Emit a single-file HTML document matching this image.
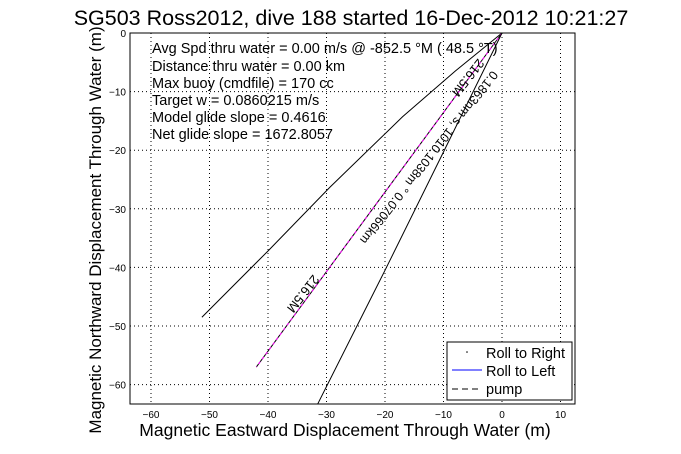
<!DOCTYPE html>
<html><head><meta charset="utf-8"><style>
body{margin:0;background:#fff}
svg{display:block;font-family:"Liberation Sans",sans-serif}
</style></head><body>
<svg id="chart" width="681" height="454" viewBox="0 0 681 454">
<rect width="681" height="454" fill="#fff"/>
<g id="grid"></g>
<g id="ticks" font-size="10"></g>
<g id="series"></g>
<rect x="130" y="33" width="445" height="371" fill="none" stroke="#000"/>
<text x="351" y="25" font-size="21.5" text-anchor="middle">SG503 Ross2012, dive 188 started 16-Dec-2012 10:21:27</text>
<text x="345" y="436" font-size="17.5" text-anchor="middle">Magnetic Eastward Displacement Through Water (m)</text>
<text transform="translate(101,230) rotate(-90)" font-size="17" text-anchor="middle">Magnetic Northward Displacement Through Water (m)</text>
<g font-size="14.5">
<text x="152" y="53">Avg Spd thru water =  0.00 m/s @ -852.5    °M ( 48.5 °T)</text>
<text x="152" y="71">Distance thru water =  0.00 km</text>
<text x="152" y="88">Max buoy (cmdfile) = 170 cc</text>
<text x="152" y="105">Target w = 0.0860215 m/s</text>
<text x="152" y="122">Model glide slope = 0.4616</text>
<text x="152" y="139">Net glide slope = 1672.8057</text>
</g>
<g font-size="13">
<text transform="translate(478,58) rotate(128)">216.5M</text>
<text transform="translate(492,70) rotate(128)" font-size="12.5">0.1863nm s, 1010.1038m ° 0.07066km</text>
<text transform="translate(313,274) rotate(128)">216.5M</text>
</g>
<g>
<rect x="447" y="342" width="125" height="58" fill="#fff" stroke="#000"/>
<circle cx="467" cy="352" r="0.8" fill="#000"/>
<text x="486" y="358" font-size="14.5">Roll to Right</text>
<line x1="452" y1="370" x2="482" y2="370" stroke="#00f"/>
<text x="486" y="376" font-size="14.5">Roll to Left</text>
<line x1="452" y1="389" x2="482" y2="389" stroke="#000" stroke-dasharray="6,4"/>
<text x="486" y="394" font-size="14.5">pump</text>
</g>
</svg>
<script>
const xTicks=[-60,-50,-40,-30,-20,-10,0,10];
const yTicks=[0,-10,-20,-30,-40,-50,-60];
const upperX=[0,-8,-17,-29.4,-40,-51.3];
const upperY=[0,-6.5,-14.3,-26.3,-37.2,-48.5];
const middleX=[0,-42];
const middleY=[0,-57];
const lowerX=[0,-10.1,-20,-31.5];
const lowerY=[0,-20.5,-40.5,-63.3];
const NS="http://www.w3.org/2000/svg";
const L=130,R=575,T=33,B=404;
const sx=v=>502+v*5.85;
const sy=v=>33-v*5.86;
const grid=document.getElementById('grid'),ticks=document.getElementById('ticks'),series=document.getElementById('series');
function mk(tag,at,parent){const e=document.createElementNS(NS,tag);for(const k in at)e.setAttribute(k,at[k]);parent.appendChild(e);return e;}
xTicks.forEach(v=>{
 const l=mk('line',{x1:sx(v),x2:sx(v),y1:T,y2:B,stroke:'#000','stroke-dasharray':'1,3'},grid);
 
 
 const t=mk('text',{x:sx(v),y:B+14,'text-anchor':'middle'},ticks);
 t.textContent=v<0?'\u2212'+(-v):String(v);
 
 
});
yTicks.forEach(v=>{
 const l=mk('line',{x1:L,x2:R,y1:sy(v),y2:sy(v),stroke:'#000','stroke-dasharray':'1,3'},grid);
 
 
 const t=mk('text',{x:L-4,y:sy(v)+4,'text-anchor':'end'},ticks);
 t.textContent=v<0?'\u2212'+(-v):String(v);
 
 
});
function path(xs,ys,stroke,dash,name){
 const d=xs.map((x,i)=>(i?'L':'M')+sx(x)+','+sy(ys[i])).join('');
 const p=mk('path',{d:d,fill:'none',stroke:stroke},series);
 if(dash)p.setAttribute('stroke-dasharray',dash);
 
 
 return p;
}
path(upperX,upperY,'#000',null,'upper-track-line');
path(middleX,middleY,'#000',null,'middle-track-line');
path(middleX,middleY,'#f0f','3,3','middle-track-magenta');
path(lowerX,lowerY,'#000',null,'lower-track-line');
</script>
</body></html>
